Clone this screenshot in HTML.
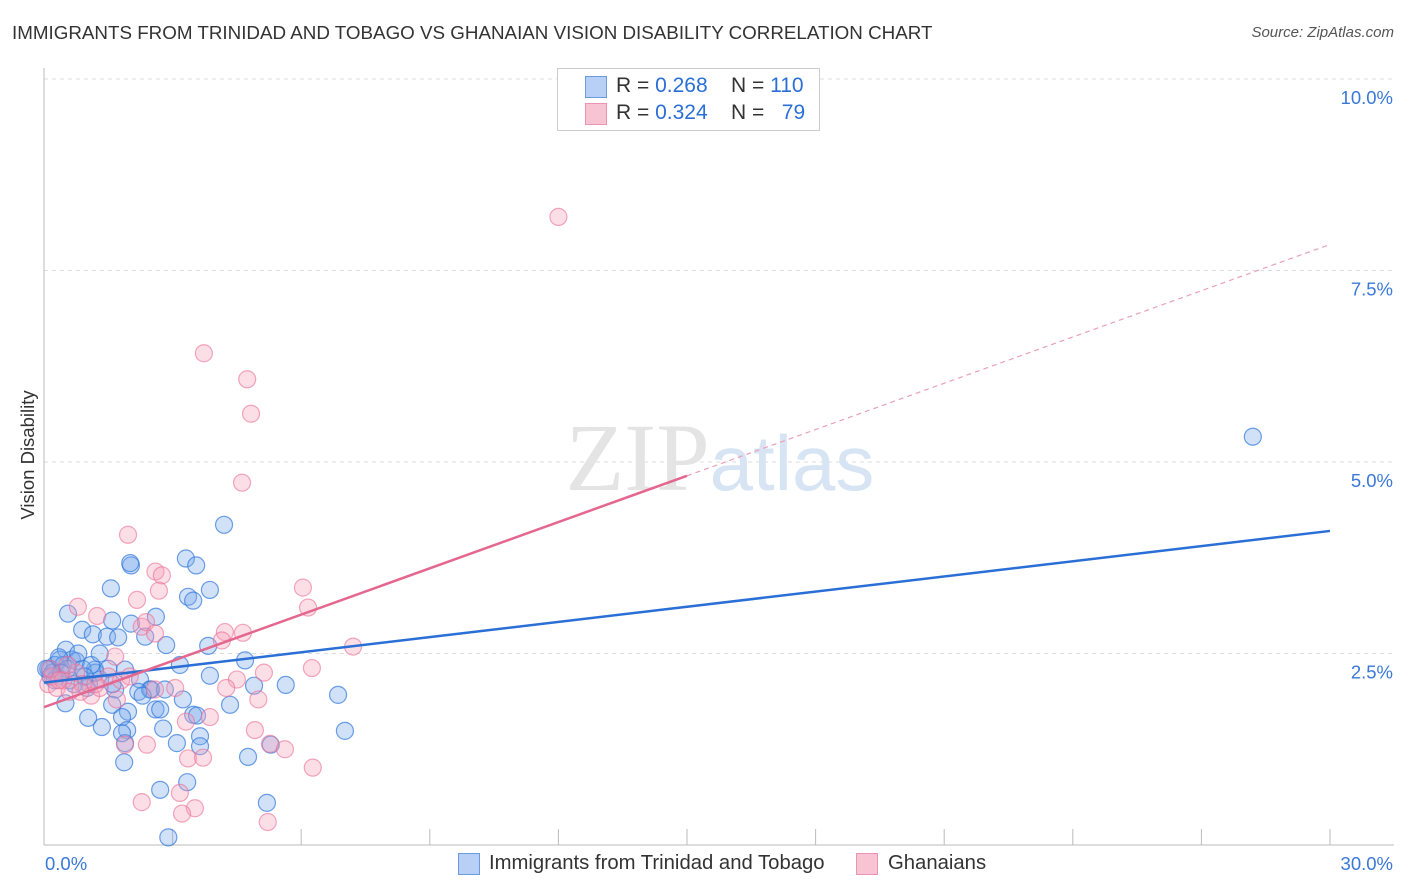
<!DOCTYPE html>
<html><head><meta charset="utf-8"><style>
body{margin:0;background:#fff;font-family:"Liberation Sans",sans-serif;}
#wrap{position:relative;width:1406px;height:892px;overflow:hidden;}
.t{position:absolute;white-space:nowrap;}
</style></head><body><div id="wrap">
<div class="t" style="left:12px;top:22px;font-size:18.8px;color:#333;">IMMIGRANTS FROM TRINIDAD AND TOBAGO VS GHANAIAN VISION DISABILITY CORRELATION CHART</div>
<div class="t" style="right:12px;top:24px;font-size:15px;color:#555;font-style:italic;">Source: ZipAtlas.com</div>
<svg id="svg" width="1406" height="892" style="position:absolute;left:0;top:0"></svg>
</div>
<script>
const xTicks=[0,30];
const yTicks=[2.5,5,7.5,10];
const blueX=[28.2,4.2,2.03,2.01,3.31,3.55,1.56,3.87,3.36,3.48,0.56,2.61,1.59,0.89,2.03,2.36,2.85,3.83,1.14,1.47,1.73,0.51,0.37,0.26,0.14,0.65,1.19,1.31,1.66,1.89,2.24,2.47,3.17,4.69,3.87,4.9,5.64,6.86,2.5,2.82,3.24,1.59,1.96,2.6,4.34,3.48,3.57,2.71,1.03,1.35,1.82,1.94,7.02,2.78,3.64,3.64,3.1,1.89,1.82,5.29,4.76,1.87,3.34,2.71,5.2,2.9,0.1,0.2,0.3,0.45,0.6,0.75,0.9,1.05,1.2,0.15,0.35,0.55,0.8,1.0,0.05,0.25,0.4,0.7,1.1,1.3,1.5,2.2,2.3,0.5,0.95,1.6];
const blueY=[5.33,4.18,3.65,3.68,3.74,3.65,3.35,3.33,3.24,3.19,3.02,2.98,2.93,2.81,2.89,2.72,2.61,2.60,2.75,2.72,2.71,2.55,2.42,2.35,2.29,2.42,2.29,2.16,2.03,2.29,2.16,2.03,2.35,2.41,2.21,2.08,2.09,1.96,2.03,2.03,1.90,1.83,1.74,1.77,1.83,1.70,1.69,1.77,1.66,1.54,1.67,1.50,1.49,1.52,1.42,1.29,1.33,1.33,1.46,1.31,1.15,1.08,0.82,0.72,0.55,0.10,2.3,2.25,2.2,2.35,2.15,2.4,2.3,2.1,2.25,2.2,2.45,2.3,2.5,2.05,2.3,2.15,2.25,2.1,2.35,2.5,2.3,2.0,1.95,1.85,2.2,2.1];
const pinkX=[12.0,3.73,4.74,4.83,4.62,1.96,2.6,2.75,2.68,2.17,6.04,6.16,0.79,1.24,2.28,2.38,2.59,4.22,4.64,4.15,7.21,1.66,6.25,5.13,4.5,4.25,3.06,2.59,5.0,3.87,3.31,4.92,5.27,5.62,6.27,3.36,3.71,2.4,1.89,3.17,3.52,2.28,3.22,5.22,0.1,0.2,0.3,0.45,0.6,0.75,0.9,1.1,1.3,1.5,1.7,0.15,0.35,0.55,0.85,1.2,1.8,2.0];
const pinkY=[8.2,6.42,6.08,5.63,4.73,4.05,3.57,3.52,3.32,3.2,3.36,3.10,3.11,2.99,2.85,2.91,2.76,2.78,2.77,2.67,2.59,2.46,2.31,2.25,2.16,2.05,2.05,2.03,1.90,1.67,1.61,1.50,1.32,1.25,1.01,1.13,1.14,1.31,1.31,0.68,0.48,0.56,0.41,0.30,2.1,2.2,2.05,2.15,2.0,2.25,2.1,1.95,2.05,2.2,1.9,2.3,2.15,2.35,2.0,2.1,2.15,2.2];
const blueLine=[2.12,4.10], pinkLine=[1.80,7.84];
const L=44,R=1330,T=79,B=845;
const sx=v=>L+(R-L)*v/30, sy=v=>B-(B-T)*v/10;
const svg=document.getElementById('svg');
function el(tag,a,p){const e=document.createElementNS('http://www.w3.org/2000/svg',tag);for(const k in a)e.setAttribute(k,a[k]);(p||svg).appendChild(e);return e;}
let e;
for(const v of yTicks){e=el('line',{x1:L,x2:R+64,y1:sy(v),y2:sy(v),stroke:'#ddd','stroke-dasharray':'4,4'});


e=el('text',{x:1393,y:sy(v)+25,'text-anchor':'end','font-size':18.5,fill:'#3a78d8'});e.textContent=v.toFixed(1)+'%';

}
e=el('line',{x1:L,x2:L,y1:68,y2:B,stroke:'#bbb'});


e=el('line',{x1:L,x2:R+64,y1:B,y2:B,stroke:'#bbb'});


for(let i=1;i<=10;i++){e=el('line',{x1:sx(i*3),x2:sx(i*3),y1:B,y2:B-16,stroke:'#bbb'});

}
e=el('text',{x:45,y:870,'font-size':18.5,fill:'#3a78d8'});e.textContent=xTicks[0].toFixed(1)+'%';


e=el('text',{x:1393,y:870,'text-anchor':'end','font-size':18.5,fill:'#3a78d8'});e.textContent=xTicks[1].toFixed(1)+'%';


e=el('text',{x:34,y:455,'font-size':18.5,fill:'#333','text-anchor':'middle',transform:'rotate(-90 34 455)'});e.textContent='Vision Disability';


e=el('text',{x:720,y:490,'font-size':96,fill:'#e4e4e4','text-anchor':'middle','font-family':'Liberation Serif'});e.innerHTML='ZIP<tspan fill="#d6e4f4" font-family="Liberation Sans" font-size="78">atlas</tspan>';


for(let i=0;i<blueX.length;i++){e=el('circle',{cx:sx(blueX[i]),cy:sy(blueY[i]),r:8.5,fill:'rgba(120,170,235,0.35)',stroke:'rgba(50,120,220,0.7)','stroke-width':1.2});

}
for(let i=0;i<pinkX.length;i++){e=el('circle',{cx:sx(pinkX[i]),cy:sy(pinkY[i]),r:8.5,fill:'rgba(245,160,185,0.35)',stroke:'rgba(235,110,150,0.6)','stroke-width':1.2});

}
e=el('line',{x1:sx(0),y1:sy(blueLine[0]),x2:sx(30),y2:sy(blueLine[1]),stroke:'#2a6fd6','stroke-width':2.5});


const pm=15;const py=v=>pinkLine[0]+(pinkLine[1]-pinkLine[0])*v/30;
e=el('line',{x1:sx(0),y1:sy(pinkLine[0]),x2:sx(pm),y2:sy(py(pm)),stroke:'#e4678f','stroke-width':2.5});


e=el('line',{x1:sx(pm),y1:sy(py(pm)),x2:sx(30),y2:sy(pinkLine[1]),stroke:'#eaa0b8','stroke-width':1.2,'stroke-dasharray':'5,4'});


</script>
<div class="t" style="left:557px;top:68px;width:261px;height:61px;border:1px solid #ccc;background:#fff;font-size:21px;color:#333;">
<div style="position:absolute;left:27px;top:7px;width:20px;height:20px;background:#b8d0f5;border:1px solid #6a9be0;"></div>
<div style="position:absolute;left:58px;top:5px;">R = <span style="color:#2a6fd6">0.268</span>&nbsp;&nbsp;&nbsp; N = <span style="color:#2a6fd6">110</span></div>
<div style="position:absolute;left:27px;top:34px;width:20px;height:20px;background:#f8c4d4;border:1px solid #eb93b0;"></div>
<div style="position:absolute;left:58px;top:32px;">R = <span style="color:#2a6fd6">0.324</span>&nbsp;&nbsp;&nbsp; N = &nbsp; <span style="color:#2a6fd6">79</span></div>
</div>
<div class="t" style="left:458px;top:853px;width:20px;height:20px;background:#b8d0f5;border:1px solid #6a9be0;"></div>
<div class="t" style="left:489px;top:852px;font-size:20.3px;color:#333;">Immigrants from Trinidad and Tobago</div>
<div class="t" style="left:856px;top:853px;width:20px;height:20px;background:#f8c4d4;border:1px solid #eb93b0;"></div>
<div class="t" style="left:888px;top:852px;font-size:20.3px;color:#333;">Ghanaians</div>
</body></html>
